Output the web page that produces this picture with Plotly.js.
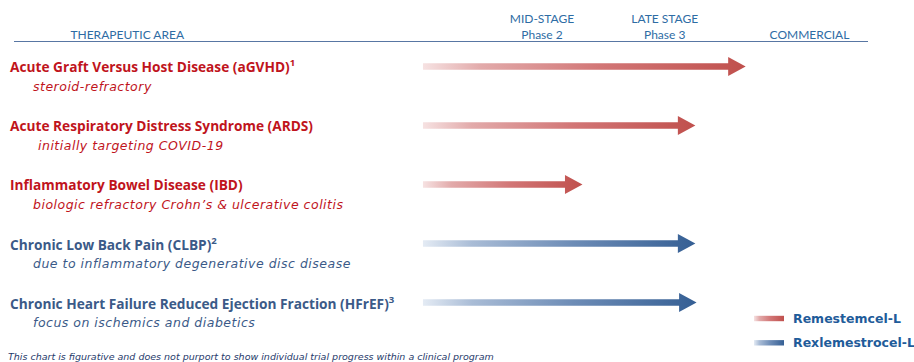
<!DOCTYPE html>
<html>
<head>
<meta charset="utf-8">
<script src="https://cdn.plot.ly/plotly-3.0.1.min.js"></script>
<style>
  html, body { margin: 0; padding: 0; background: #ffffff; }
  #chart { width: 914px; height: 362px; }
  /* indication lines are set with a little tracking */
  text.annotation-text tspan[style*="italic"] { letter-spacing: 0.5px; }
</style>
</head>
<body>
<div id="chart"></div>
<script>
// Pipeline rows, top to bottom
const areas = [
  'Acute Graft Versus Host Disease (aGVHD)<sup>1</sup>',
  'Acute Respiratory Distress Syndrome (ARDS)',
  'Inflammatory Bowel Disease (IBD)',
  'Chronic Low Back Pain (CLBP)<sup>2</sup>',
  'Chronic Heart Failure Reduced Ejection Fraction (HFrEF)<sup>3</sup>'
];
const indications = [
  'steroid-refractory',
  'initially targeting COVID-19',
  'biologic refractory Crohn’s & ulcerative colitis',
  'due to inflammatory degenerative disc disease',
  'focus on ischemics and diabetics'
];
const products = ['Remestemcel-L', 'Remestemcel-L', 'Remestemcel-L', 'Rexlemestrocel-L', 'Rexlemestrocel-L'];

// Progress along the development axis (Phase 2 = 2, Phase 3 = 3)
const stageStart = [1.03, 1.03, 1.03, 1.03, 1.03];
const stageEnd   = [3.66, 3.25, 2.33, 3.25, 3.26];

// Column headings on the top axis
const headerPos    = [-1.38, 2, 3, 4.18];
const headerLabels = ['THERAPEUTIC AREA', 'MID-STAGE<br>Phase 2', 'LATE STAGE<br>Phase 3', 'COMMERCIAL'];

const legendNames = ['Remestemcel-L', 'Rexlemestrocel-L'];
const footnote = 'This chart is figurative and does not purport to show individual trial progress within a clinical program';

// ---- styling ----
const W = 914, H = 362;
const plotL = 14, plotR = 868, plotT = 42, plotB = 362;
const xRange = [-2.303, 4.657];
const yRange = [5.008, -0.415];
const kx = (plotR - plotL) / (xRange[1] - xRange[0]);
const ky = (plotB - plotT) / (yRange[0] - yRange[1]);
const pxToX = px => xRange[0] + (px - plotL) / kx;
const pyToY = py => yRange[1] + (py - plotT) / ky;

const palette = {
  'Remestemcel-L': {
    text: '#c0141c',
    scale: [[0, '#f6e2e2'], [0.18, '#e2aaaa'], [0.55, '#d27676'], [1, '#c0504d']]
  },
  'Rexlemestrocel-L': {
    text: '#3b5a88',
    scale: [[0, '#e4ebf4'], [0.18, '#a9bcd6'], [0.55, '#6d8cb6'], [1, '#355f94']]
  }
};

function arrowTrace(xs, xe, row, prod) {
  const head = 17.5 / kx, shaft = 3.2 / ky, hh = 9.4 / ky;
  const xh = xe - head;
  return {
    type: 'scatter', mode: 'lines', fill: 'toself',
    x: [xs, xh, xh, xe, xh, xh, xs, xs],
    y: [row - shaft, row - shaft, row - hh, row, row + hh, row + shaft, row + shaft, row - shaft],
    line: { width: 0 },
    fillgradient: { type: 'horizontal', colorscale: palette[prod].scale },
    hoverinfo: 'skip', showlegend: false
  };
}

function barTrace(px0, px1, pyc, prod) {
  const x0 = pxToX(px0), x1 = pxToX(px1);
  const y0 = pyToY(pyc - 2.7), y1 = pyToY(pyc + 2.7);
  return {
    type: 'scatter', mode: 'lines', fill: 'toself',
    x: [x0, x1, x1, x0, x0], y: [y0, y0, y1, y1, y0],
    line: { width: 0 },
    fillgradient: { type: 'horizontal', colorscale: palette[prod].scale },
    hoverinfo: 'skip', showlegend: false
  };
}

const traces = [];
areas.forEach((a, i) => traces.push(arrowTrace(stageStart[i], stageEnd[i], i, products[i])));
legendNames.forEach((n, i) => traces.push(barTrace(754, 784, 318.5 + i * 24.3, n)));

const headFont = 'Lato, "Open Sans", sans-serif';
const titleFont = '"Open Sans", "Noto Sans", sans-serif';
const bodyFont = '"DejaVu Sans", Verdana, sans-serif';
const subIndent = [31, 36, 31, 31, 31];
const annotations = [];
areas.forEach((a, i) => {
  const c = palette[products[i]].text;
  annotations.push({
    xref: 'paper', yref: 'y', x: 8 / W, y: i, yshift: 0,
    xanchor: 'left', yanchor: 'middle', showarrow: false,
    text: '<b>' + a + '</b>', font: { family: titleFont, size: 13.7, color: c }
  });
  annotations.push({
    xref: 'paper', yref: 'y', x: subIndent[i] / W, y: i, yshift: -20,
    xanchor: 'left', yanchor: 'middle', showarrow: false,
    text: '<i>' + indications[i] + '</i>', font: { family: bodyFont, size: 12.5, color: c }
  });
});
legendNames.forEach((n, i) => {
  annotations.push({
    xref: 'paper', yref: 'paper', x: 791 / W, y: 1 - (318 + i * 24.5) / H,
    xanchor: 'left', yanchor: 'middle', showarrow: false,
    text: '<b>' + n + '</b>', font: { family: bodyFont, size: 12.5, color: '#1f5c9a' }
  });
});
annotations.push({
  xref: 'paper', yref: 'paper', x: 6 / W, y: 1 - 356 / H,
  xanchor: 'left', yanchor: 'middle', showarrow: false,
  text: footnote, font: { family: bodyFont, size: 9.5, style: 'italic', color: '#1f3a6b' }
});

const layout = {
  width: W, height: H,
  margin: { l: 0, r: 0, t: 0, b: 0, pad: 0 },
  paper_bgcolor: '#ffffff', plot_bgcolor: '#ffffff',
  showlegend: false,
  xaxis: {
    domain: [plotL / W, plotR / W], range: xRange,
    side: 'top', showgrid: false, zeroline: false,
    showline: true, linecolor: '#5876a3', linewidth: 1.5,
    ticks: '', tickmode: 'array', tickvals: headerPos, ticktext: headerLabels,
    tickfont: { family: headFont, size: 12, color: '#2e6ca4' },
    ticklabelstandoff: -3, fixedrange: true
  },
  yaxis: {
    domain: [0, 1 - plotT / H], range: yRange,
    visible: false, fixedrange: true
  },
  annotations: annotations
};

Plotly.newPlot('chart', traces, layout, { staticPlot: true, displayModeBar: false });
</script>
</body>
</html>
